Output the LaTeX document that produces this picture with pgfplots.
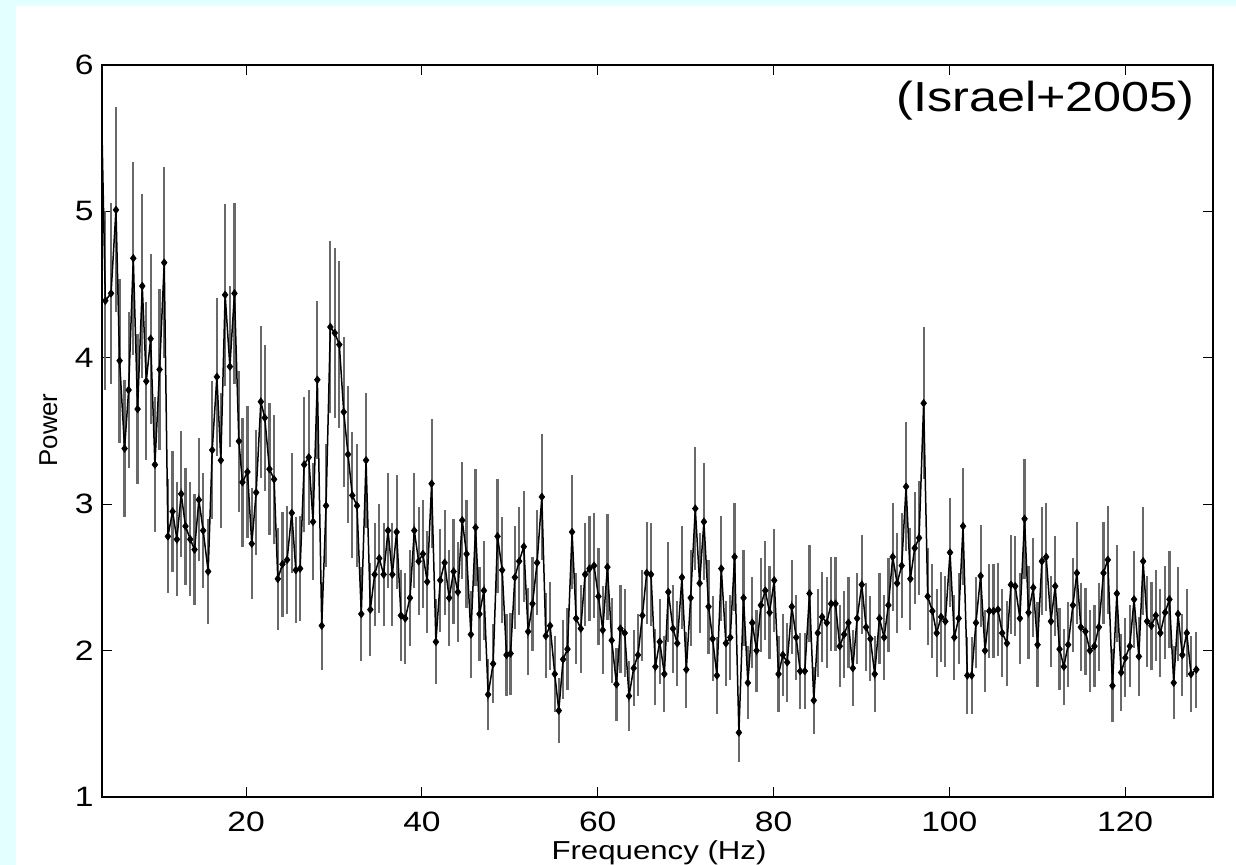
\documentclass[border=0pt]{standalone}
\usepackage{fontspec}
\setmainfont{Liberation Sans}[FakeStretch=1.2]
\newfontfamily\plainsans{Liberation Sans}
\usepackage{pgfplots}
\usepackage{pgfplotstable}
\pgfplotsset{compat=1.18}
\definecolor{bgcyan}{RGB}{228,255,255}
\definecolor{ebgray}{RGB}{105,105,105}
\pgfplotstableread{
f p e
3.47 5.93 0.83
3.98 4.39 0.61
4.63 4.44 0.62
5.19 5.01 0.70
5.60 3.98 0.56
6.17 3.38 0.47
6.63 3.78 0.53
7.16 4.68 0.66
7.65 3.65 0.51
8.18 4.49 0.63
8.64 3.84 0.54
9.13 4.13 0.58
9.62 3.27 0.46
10.15 3.92 0.55
10.68 4.65 0.65
11.10 2.78 0.39
11.63 2.95 0.41
12.12 2.76 0.39
12.61 3.07 0.43
13.10 2.85 0.40
13.64 2.76 0.39
14.13 2.69 0.38
14.62 3.03 0.42
15.11 2.82 0.39
15.68 2.54 0.36
16.14 3.37 0.47
16.67 3.87 0.54
17.12 3.30 0.46
17.61 4.43 0.62
18.15 3.94 0.55
18.67 4.44 0.62
19.17 3.43 0.48
19.58 3.15 0.44
20.15 3.22 0.45
20.64 2.73 0.38
21.14 3.08 0.43
21.67 3.70 0.52
22.12 3.59 0.50
22.65 3.24 0.45
23.18 3.17 0.44
23.60 2.49 0.35
24.13 2.59 0.36
24.66 2.62 0.37
25.19 2.94 0.41
25.65 2.55 0.36
26.14 2.56 0.36
26.60 3.27 0.46
27.12 3.32 0.46
27.61 2.88 0.40
28.10 3.85 0.54
28.60 2.17 0.30
29.09 2.99 0.42
29.58 4.21 0.59
30.08 4.17 0.58
30.60 4.09 0.57
31.10 3.63 0.51
31.59 3.34 0.47
32.08 3.06 0.43
32.61 2.99 0.42
33.10 2.25 0.32
33.64 3.30 0.46
34.13 2.28 0.32
34.62 2.52 0.35
35.15 2.63 0.37
35.64 2.52 0.35
36.14 2.82 0.39
36.63 2.52 0.35
37.12 2.81 0.39
37.61 2.24 0.31
38.10 2.22 0.31
38.64 2.36 0.33
39.13 2.82 0.39
39.62 2.61 0.37
40.11 2.66 0.37
40.60 2.47 0.35
41.10 3.14 0.44
41.59 2.06 0.29
42.08 2.48 0.35
42.58 2.60 0.36
43.10 2.36 0.33
43.60 2.54 0.36
44.09 2.40 0.34
44.58 2.89 0.40
45.08 2.66 0.37
45.57 2.11 0.30
46.10 2.84 0.40
46.55 2.25 0.32
47.05 2.41 0.34
47.53 1.70 0.24
48.10 1.91 0.27
48.60 2.78 0.39
49.13 2.55 0.36
49.62 1.97 0.28
50.08 1.98 0.28
50.57 2.50 0.35
51.06 2.61 0.37
51.59 2.71 0.38
52.08 2.13 0.30
52.58 2.32 0.32
53.10 2.60 0.36
53.64 3.05 0.43
54.09 2.10 0.29
54.58 2.17 0.30
55.11 1.84 0.26
55.57 1.59 0.22
56.06 1.94 0.27
56.56 2.01 0.28
57.08 2.81 0.39
57.54 2.22 0.31
58.07 2.15 0.30
58.56 2.52 0.35
59.06 2.56 0.36
59.58 2.58 0.36
60.08 2.37 0.33
60.57 2.14 0.30
61.10 2.57 0.36
61.59 2.07 0.29
62.13 1.77 0.25
62.58 2.15 0.30
63.07 2.12 0.30
63.56 1.69 0.24
64.09 1.88 0.26
64.58 1.97 0.28
65.08 2.24 0.31
65.57 2.53 0.35
66.06 2.52 0.35
66.56 1.89 0.26
67.05 2.06 0.29
67.58 1.84 0.26
68.03 2.40 0.34
68.56 2.15 0.30
69.05 2.05 0.29
69.58 2.50 0.35
70.08 1.87 0.26
70.57 2.36 0.33
71.10 2.97 0.42
71.59 2.46 0.34
72.08 2.88 0.40
72.61 2.30 0.32
73.07 2.08 0.29
73.56 1.83 0.26
74.06 2.56 0.36
74.58 2.05 0.29
75.08 2.09 0.29
75.57 2.64 0.37
76.06 1.44 0.20
76.59 2.36 0.33
77.08 1.78 0.25
77.58 2.19 0.31
78.07 2.00 0.28
78.56 2.31 0.32
79.06 2.41 0.34
79.55 2.26 0.32
80.08 2.48 0.35
80.57 1.84 0.26
81.06 1.97 0.28
81.56 1.92 0.27
82.08 2.30 0.32
82.58 2.09 0.29
83.03 1.86 0.26
83.56 1.86 0.26
84.09 2.39 0.33
84.58 1.66 0.23
85.03 2.12 0.30
85.53 2.23 0.31
86.06 2.19 0.31
86.55 2.32 0.32
87.05 2.32 0.32
87.53 2.03 0.28
88.03 2.11 0.30
88.52 2.19 0.31
89.02 1.88 0.26
89.51 2.22 0.31
90.04 2.45 0.34
90.53 2.16 0.30
91.02 2.08 0.29
91.51 1.84 0.26
92.05 2.22 0.31
92.58 2.09 0.29
93.07 2.31 0.32
93.56 2.64 0.37
94.06 2.46 0.34
94.58 2.58 0.36
95.08 3.12 0.44
95.57 2.49 0.35
96.06 2.70 0.38
96.56 2.77 0.39
97.08 3.69 0.52
97.54 2.37 0.33
98.07 2.27 0.32
98.56 2.12 0.30
99.06 2.23 0.31
99.55 2.20 0.31
100.08 2.67 0.37
100.57 2.09 0.29
101.06 2.22 0.31
101.56 2.85 0.40
102.05 1.83 0.26
102.54 1.83 0.26
103.03 2.19 0.31
103.56 2.51 0.35
104.06 2.00 0.28
104.55 2.27 0.32
105.03 2.27 0.32
105.53 2.28 0.32
106.02 2.12 0.30
106.56 2.05 0.29
107.01 2.45 0.34
107.50 2.44 0.34
108.03 2.22 0.31
108.56 2.90 0.41
109.01 2.26 0.32
109.55 2.43 0.34
110.04 2.04 0.29
110.53 2.61 0.37
111.02 2.64 0.37
111.56 2.20 0.31
112.05 2.44 0.34
112.54 2.01 0.28
113.03 1.89 0.26
113.52 2.04 0.29
114.06 2.31 0.32
114.51 2.53 0.35
114.96 2.16 0.30
115.49 2.13 0.30
115.99 2.00 0.28
116.51 2.03 0.28
117.01 2.16 0.30
117.54 2.53 0.35
118.03 2.62 0.37
118.56 1.76 0.25
119.06 2.39 0.33
119.55 1.85 0.26
120.03 1.95 0.27
120.53 2.03 0.28
121.02 2.35 0.33
121.56 1.96 0.27
122.05 2.61 0.37
122.50 2.20 0.31
122.99 2.17 0.30
123.49 2.24 0.31
124.01 2.12 0.30
124.55 2.26 0.32
125.04 2.35 0.33
125.53 1.78 0.25
126.02 2.25 0.32
126.51 1.97 0.28
127.01 2.12 0.30
127.50 1.84 0.26
128.10 1.87 0.26
}\powerdata
\begin{document}
\begin{tikzpicture}
\path[use as bounding box] (0,0) rectangle (618pt,432.5pt);
\fill[white] (0,0) rectangle (618pt,432.5pt);
\fill[bgcyan] (0,0) rectangle (8pt,432.5pt);
\fill[bgcyan] (0,429.5pt) rectangle (618pt,432.5pt);
\begin{axis}[
  at={(51pt,34pt)}, anchor=south west,
  scale only axis, width=555.5pt, height=366pt,
  xmin=3.6, xmax=130, ymin=1, ymax=6,
  xtick={20,40,60,80,100,120},
  ytick={1,2,3,4,5,6},
  tick align=inside,
  major tick length=5pt,
  minor tick num=0,
  axis line style={line width=0.7pt, black},
  every tick/.style={black, line width=0.5pt},
  /pgf/number format/assume math mode=true,
  ticklabel style={font=\fontsize{14}{16}\selectfont},
  xticklabel style={anchor=north, inner sep=0pt, yshift=-7.5pt},
  yticklabel style={anchor=east, inner sep=0pt, xshift=-4pt},
  clip=true,
]
\addplot[ebgray, mark=none, line width=1.1pt, draw opacity=0, forget plot,
  error bars/.cd, y dir=both, y explicit, error mark=none,
  error bar style={draw=ebgray, draw opacity=1, line width=1.1pt}]
  table[x=f, y=p, y error=e] {\powerdata};
\addplot[black, line width=0.75pt, mark=diamond*, mark size=1.9pt,
  mark options={solid, fill=black, draw=black, line width=0.3pt}]
  table[x=f, y=p] {\powerdata};
\end{axis}
\node[anchor=base, inner sep=0pt, font=\fontsize{13}{15}\selectfont] at (329.5pt,2.5pt) {Frequency (Hz)};
\node[anchor=base, rotate=90, inner sep=0pt, font=\plainsans\fontsize{12.9}{15}\selectfont] at (28.5pt,217.5pt) {Power};
\node[anchor=base east, inner sep=0pt, font=\fontsize{21}{24}\selectfont] at (597.5pt,376.5pt) {(Israel+2005)};
\end{tikzpicture}
\end{document}
